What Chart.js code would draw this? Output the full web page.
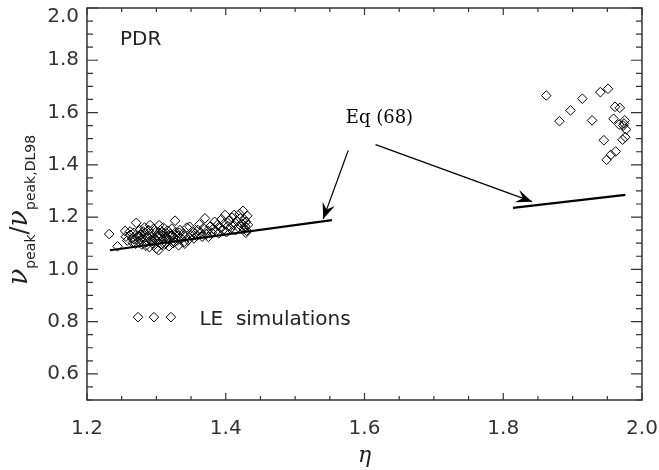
<!DOCTYPE html>
<html>
<head>
<meta charset="utf-8">
<script src="https://cdn.jsdelivr.net/npm/chart.js@4.4.1/dist/chart.umd.min.js"></script>
<style>
  html, body { margin: 0; padding: 0; background: #fff; }
  #wrap { width: 659px; height: 470px; }
</style>
</head>
<body>
<div id="wrap"><canvas id="grafico"></canvas></div>
<script>
// LE simulations, left group
const etaLeft = [
  1.232, 1.244, 1.255, 1.256, 1.258, 1.262, 1.265, 1.266, 1.268, 1.271,
  1.272, 1.274, 1.276, 1.278, 1.279, 1.281, 1.283, 1.284, 1.286, 1.287,
  1.289, 1.290, 1.291, 1.292, 1.293, 1.295, 1.296, 1.297, 1.299, 1.300,
  1.301, 1.303, 1.304, 1.305, 1.306, 1.307, 1.309, 1.310, 1.311, 1.313,
  1.314, 1.316, 1.318, 1.319, 1.320, 1.322, 1.324, 1.325, 1.327, 1.328,
  1.330, 1.331, 1.332, 1.334, 1.336, 1.338, 1.340, 1.342, 1.344, 1.346,
  1.348, 1.350, 1.352, 1.354, 1.356, 1.358, 1.360, 1.362, 1.364, 1.366,
  1.368, 1.370, 1.372, 1.374, 1.375, 1.378, 1.380, 1.382, 1.384, 1.386,
  1.388, 1.390, 1.392, 1.394, 1.396, 1.398, 1.399, 1.401, 1.403, 1.405,
  1.407, 1.409, 1.411, 1.412, 1.414, 1.416, 1.418, 1.420, 1.421, 1.423,
  1.425, 1.426, 1.427, 1.428, 1.429, 1.429, 1.430, 1.431, 1.432,
  1.262, 1.268, 1.275, 1.281, 1.288, 1.294, 1.302, 1.308, 1.315, 1.321,
  1.270, 1.277, 1.285, 1.298, 1.312, 1.326, 1.333, 1.341
];
const ratioLeft = [
  1.135, 1.088, 1.147, 1.125, 1.110, 1.132, 1.118, 1.102, 1.140, 1.178,
  1.125, 1.108, 1.150, 1.132, 1.095, 1.118, 1.160, 1.140, 1.104, 1.127,
  1.150, 1.085, 1.169, 1.112, 1.135, 1.098, 1.155, 1.120, 1.142, 1.080,
  1.108, 1.073, 1.169, 1.130, 1.150, 1.095, 1.115, 1.160, 1.138, 1.102,
  1.125, 1.148, 1.088, 1.112, 1.135, 1.155, 1.100, 1.122, 1.186, 1.142,
  1.110, 1.128, 1.092, 1.150, 1.118, 1.135, 1.105, 1.125, 1.160, 1.112,
  1.163, 1.130, 1.145, 1.118, 1.137, 1.128, 1.150, 1.172, 1.140, 1.125,
  1.158, 1.195, 1.135, 1.148, 1.124, 1.165, 1.140, 1.155, 1.182, 1.145,
  1.170, 1.138, 1.160, 1.192, 1.150, 1.175, 1.208, 1.142, 1.165, 1.185,
  1.155, 1.198, 1.170, 1.208, 1.150, 1.185, 1.162, 1.212, 1.195, 1.175,
  1.224, 1.155, 1.190, 1.165, 1.182, 1.140, 1.148, 1.205, 1.170,
  1.145, 1.115, 1.128, 1.145, 1.122, 1.108, 1.128, 1.142, 1.118, 1.128,
  1.098, 1.112, 1.090, 1.115, 1.095, 1.105, 1.140, 1.098
];

// LE simulations, right group
const etaRight = [
  1.862, 1.881, 1.897, 1.914, 1.928, 1.940, 1.951, 1.961, 1.968, 1.959,
  1.967, 1.975, 1.974, 1.977, 1.972, 1.976, 1.945, 1.949, 1.955, 1.962,
  1.973
];
const ratioRight = [
  1.665, 1.567, 1.608, 1.653, 1.570, 1.678, 1.691, 1.622, 1.618, 1.576,
  1.554, 1.570, 1.558, 1.535, 1.496, 1.506, 1.494, 1.419, 1.438, 1.451,
  1.550
];

// Eq (68) segments
const eqLeftEta = [1.233, 1.553];
const eqLeftRatio = [1.073, 1.188];
const eqRightEta = [1.814, 1.976];
const eqRightRatio = [1.235, 1.285];

// legend sample inside the plot
const legendEta = [1.2735, 1.2965, 1.321];
const legendRatio = [0.817, 0.817, 0.817];

// arrows: [etaStart, ratioStart, etaTip, ratioTip]
const arrows = [
  [1.5765, 1.455, 1.5405, 1.193],
  [1.616, 1.477, 1.8416, 1.259]
];

const xTicks = [1.2, 1.4, 1.6, 1.8, 2.0];
const yTicks = [0.6, 0.8, 1.0, 1.2, 1.4, 1.6, 1.8, 2.0];

const pares = (xs, ys) => xs.map((x, i) => ({ x: x, y: ys[i] }));

const cinza = "#333";
const corTexto = "#333";
const fonteTick = "20px 'DejaVu Sans'";

const diamante = {
  pointStyle: "rectRot",
  pointRadius: 4.8,
  pointBorderWidth: 1,
  pointBorderColor: "#000",
  pointBackgroundColor: "rgba(0,0,0,0)",
  showLine: false,
};

const molduraPlugin = {
  id: "moldura",
  afterDatasetsDraw(chart) {
    const { ctx, chartArea: a, scales } = chart;
    const sx = scales.x, sy = scales.y;
    ctx.save();

    // arrows
    ctx.strokeStyle = "#000";
    ctx.fillStyle = "#000";
    ctx.lineWidth = 1.2;
    arrows.forEach(([x0, y0, x1, y1]) => {
      const px0 = sx.getPixelForValue(x0), py0 = sy.getPixelForValue(y0);
      const px1 = sx.getPixelForValue(x1), py1 = sy.getPixelForValue(y1);
      const ang = Math.atan2(py1 - py0, px1 - px0);
      ctx.beginPath();
      ctx.moveTo(px0, py0);
      ctx.lineTo(px1, py1);
      ctx.stroke();
      const L = 16, W = 6.5;
      ctx.save();
      ctx.translate(px1, py1);
      ctx.rotate(ang);
      ctx.beginPath();
      ctx.moveTo(0, 0);
      ctx.lineTo(-L, -W);
      ctx.lineTo(-L * 0.62, 0);
      ctx.lineTo(-L, W);
      ctx.closePath();
      ctx.fill();
      ctx.restore();
    });

    // frame
    ctx.strokeStyle = cinza;
    ctx.lineWidth = 1.5;
    ctx.strokeRect(a.left, a.top, a.right - a.left, a.bottom - a.top);

    // inward ticks on all sides
    ctx.lineWidth = 1.2;
    ctx.beginPath();
    for (let k = 0; k <= 16; k++) {
      const v = 1.2 + k * 0.05;
      const px = sx.getPixelForValue(v);
      const len = k % 4 === 0 ? 7 : 4;
      ctx.moveTo(px, a.bottom); ctx.lineTo(px, a.bottom - len);
      ctx.moveTo(px, a.top); ctx.lineTo(px, a.top + len);
    }
    for (let k = 0; k <= 30; k++) {
      const v = 0.5 + k * 0.05;
      const py = sy.getPixelForValue(v);
      const len = (k - 2) % 4 === 0 ? 11 : 6;
      ctx.moveTo(a.left, py); ctx.lineTo(a.left + len, py);
      ctx.moveTo(a.right, py); ctx.lineTo(a.right - len, py);
    }
    ctx.stroke();

    // top y label pushed down inside the canvas, as in the original
    ctx.fillStyle = corTexto;
    ctx.font = fonteTick;
    ctx.textAlign = "right";
    ctx.textBaseline = "middle";
    ctx.fillText("2.0", a.left - 8, 17);

    // texts inside the plot
    ctx.fillStyle = "#222";
    ctx.textAlign = "left";
    ctx.font = "20px 'DejaVu Sans'";
    ctx.fillText("PDR", sx.getPixelForValue(1.2475), sy.getPixelForValue(1.877));
    ctx.fillText("LE  simulations", sx.getPixelForValue(1.362), sy.getPixelForValue(0.806));
    ctx.fillStyle = "#000";
    ctx.font = "18px 'DejaVu Serif'";
    ctx.fillText("Eq (68)", sx.getPixelForValue(1.573), sy.getPixelForValue(1.579));

    // x title
    ctx.fillStyle = "#222";
    ctx.textAlign = "center";
    ctx.font = "italic 22px 'DejaVu Serif'";
    ctx.fillText("\u03b7", (a.left + a.right) / 2, 456);

    // y title: nu_peak / nu_peak,DL98
    const partes = [
      { t: "\u03bd", f: "italic 27px 'DejaVu Serif'", dy: 0 },
      { t: "peak", f: "14px 'DejaVu Sans'", dy: 8 },
      { t: "/", f: "24px 'DejaVu Sans'", dy: 0 },
      { t: "\u03bd", f: "italic 27px 'DejaVu Serif'", dy: 0 },
      { t: "peak,DL98", f: "14px 'DejaVu Sans'", dy: 8 },
    ];
    let total = 0;
    partes.forEach(p => { ctx.font = p.f; p.w = ctx.measureText(p.t).width; total += p.w; });
    ctx.translate(27, 210);
    ctx.rotate(-Math.PI / 2);
    ctx.textAlign = "left";
    ctx.textBaseline = "alphabetic";
    let cx = -total / 2;
    partes.forEach(p => {
      ctx.font = p.f;
      ctx.fillText(p.t, cx, p.dy);
      cx += p.w;
    });
    ctx.restore();
  },
};

new Chart(document.getElementById("grafico").getContext("2d"), {
  type: "scatter",
  data: {
    datasets: [
      { label: "LE simulations", data: pares(etaLeft, ratioLeft), ...diamante },
      { label: "LE simulations (2)", data: pares(etaRight, ratioRight), ...diamante },
      { label: "legend", data: pares(legendEta, legendRatio), ...diamante },
      {
        label: "Eq (68) a", data: pares(eqLeftEta, eqLeftRatio), showLine: true,
        borderColor: "#000", borderWidth: 2.2, pointRadius: 0,
      },
      {
        label: "Eq (68) b", data: pares(eqRightEta, eqRightRatio), showLine: true,
        borderColor: "#000", borderWidth: 2.2, pointRadius: 0,
      },
    ],
  },
  options: {
    responsive: true,
    maintainAspectRatio: false,
    animation: false,
    layout: { padding: { top: 8, right: 17, left: 0, bottom: 0 } },
    plugins: { legend: { display: false }, tooltip: { enabled: false } },
    scales: {
      x: {
        type: "linear",
        min: 1.2,
        max: 2.0,
        afterBuildTicks: s => { s.ticks = xTicks.map(v => ({ value: v })); },
        ticks: {
          color: corTexto,
          font: { family: "'DejaVu Sans'", size: 20 },
          padding: 17,
          maxRotation: 0,
          callback: v => v.toFixed(1),
        },
        grid: { display: false, drawTicks: false },
        border: { display: false },
        afterFit: s => { s.height = 70; s.paddingLeft = 0; s.paddingRight = 0; },
      },
      y: {
        type: "linear",
        min: 0.5,
        max: 2.0,
        afterBuildTicks: s => { s.ticks = yTicks.map(v => ({ value: v })); },
        ticks: {
          color: corTexto,
          font: { family: "'DejaVu Sans'", size: 20 },
          padding: 8,
          callback: v => (v >= 1.99 ? "" : v.toFixed(1)),
        },
        grid: { display: false, drawTicks: false },
        border: { display: false },
        afterFit: s => { s.width = 87; s.paddingTop = 0; s.paddingBottom = 0; },
      },
    },
  },
  plugins: [molduraPlugin],
});
</script>
</body>
</html>
